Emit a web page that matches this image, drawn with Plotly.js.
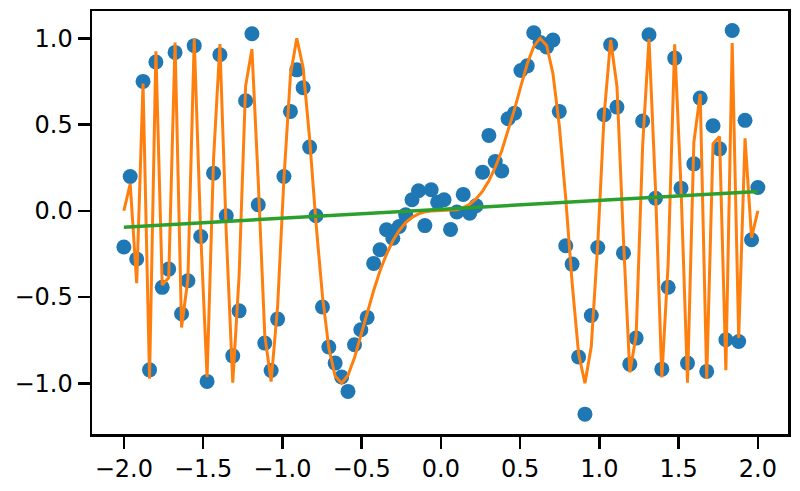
<!DOCTYPE html>
<html>
<head>
<meta charset="utf-8">
<script src="https://cdn.plot.ly/plotly-3.0.1.min.js"></script>
<style>html,body{margin:0;padding:0;background:#fff;}#chart{width:800px;height:491px;}</style>
</head>
<body>
<div id="chart"></div>
<script>
const xValues = [-2.000,-1.960,-1.919,-1.879,-1.838,-1.798,-1.758,-1.717,-1.677,-1.636,
  -1.596,-1.556,-1.515,-1.475,-1.434,-1.394,-1.354,-1.313,-1.273,-1.232,
  -1.192,-1.152,-1.111,-1.071,-1.030,-0.990,-0.949,-0.909,-0.869,-0.828,
  -0.788,-0.747,-0.707,-0.667,-0.626,-0.586,-0.545,-0.505,-0.465,-0.424,
  -0.384,-0.343,-0.303,-0.263,-0.222,-0.182,-0.141,-0.101,-0.061,-0.020,
  0.020,0.061,0.101,0.141,0.182,0.222,0.263,0.303,0.343,0.384,
  0.424,0.465,0.505,0.545,0.586,0.626,0.667,0.707,0.747,0.788,
  0.828,0.869,0.909,0.949,0.990,1.030,1.071,1.111,1.152,1.192,
  1.232,1.273,1.313,1.354,1.394,1.434,1.475,1.515,1.556,1.596,
  1.636,1.677,1.717,1.758,1.798,1.838,1.879,1.919,1.960,2.000];

const observedY = [-0.210,0.199,-0.280,0.750,-0.922,0.862,-0.444,-0.338,0.918,-0.597,
  -0.406,0.957,-0.149,-0.989,0.218,0.904,-0.029,-0.841,-0.580,0.638,
  1.026,0.035,-0.767,-0.926,-0.628,0.199,0.576,0.817,0.713,0.369,
  -0.029,-0.558,-0.790,-0.883,-0.964,-1.047,-0.777,-0.690,-0.618,-0.305,
  -0.226,-0.110,-0.159,-0.091,-0.023,0.064,0.116,-0.086,0.122,0.050,
  0.064,-0.108,-0.007,0.095,-0.014,0.029,0.224,0.437,0.286,0.231,
  0.533,0.566,0.813,0.840,1.032,0.976,0.950,0.990,0.576,-0.203,
  -0.309,-0.848,-1.179,-0.607,-0.213,0.557,0.962,0.601,-0.245,-0.889,
  -0.738,0.520,1.020,0.073,-0.918,-0.443,0.885,0.131,-0.883,0.272,
  0.653,-0.931,0.493,0.359,-0.748,1.045,-0.758,0.524,-0.168,0.135];

const curveY = [0.000,0.156,-0.420,0.737,-0.973,0.924,-0.430,-0.388,0.975,-0.677,
  -0.397,0.996,-0.136,-0.965,0.303,0.966,-0.127,-0.996,-0.378,0.723,
  0.937,0.168,-0.721,-0.990,-0.555,0.187,0.786,1.000,0.829,0.416,
  -0.069,-0.495,-0.796,-0.958,-1.000,-0.953,-0.852,-0.724,-0.589,-0.462,
  -0.348,-0.252,-0.174,-0.114,-0.069,-0.038,-0.018,-0.006,-0.001,0.000,
  0.000,0.001,0.006,0.018,0.038,0.069,0.114,0.174,0.252,0.348,
  0.462,0.589,0.724,0.852,0.953,1.000,0.958,0.796,0.495,0.069,
  -0.416,-0.829,-1.000,-0.786,-0.187,0.555,0.990,0.721,-0.168,-0.937,
  -0.723,0.378,0.996,0.127,-0.966,-0.303,0.965,0.136,-0.996,0.397,
  0.677,-0.975,0.388,0.430,-0.924,0.973,-0.737,0.420,-0.156,0.000];

const fitX = [-2.0, 2.0];
const fitY = [-0.095, 0.112];

const xTicks = [-2.0,-1.5,-1.0,-0.5,0.0,0.5,1.0,1.5,2.0];
const yTicks = [-1.0,-0.5,0.0,0.5,1.0];

const traces = [
  {x: xValues, y: observedY, type: 'scatter', mode: 'markers',
   marker: {color: '#1f77b4', size: 15, line: {width: 0}}, hoverinfo: 'skip'},
  {x: xValues, y: curveY, type: 'scatter', mode: 'lines',
   line: {color: '#ff7f0e', width: 3}, hoverinfo: 'skip'},
  {x: fitX, y: fitY, type: 'scatter', mode: 'lines',
   line: {color: '#2ca02c', width: 3.5}, hoverinfo: 'skip'}
];

const axisCommon = {
  showgrid: false, zeroline: false, showline: true, mirror: true,
  linecolor: '#000', linewidth: 2.5, ticks: 'outside', ticklen: 12,
  tickwidth: 2.5, tickcolor: '#000',
  tickfont: {family: 'DejaVu Sans', size: 24, color: '#000'}
};

const layout = {
  width: 800, height: 491,
  margin: {l: 92, r: 12, t: 11, b: 57, pad: 0},
  paper_bgcolor: '#fff', plot_bgcolor: '#fff',
  showlegend: false,
  xaxis: Object.assign({}, axisCommon, {range: [-2.201, 2.19],
    tickvals: xTicks, ticktext: xTicks.map(v => v.toFixed(1).replace('-', '\u2212'))}),
  yaxis: Object.assign({}, axisCommon, {range: [-1.294, 1.158],
    tickvals: yTicks, ticktext: yTicks.map(v => v.toFixed(1).replace('-', '\u2212'))})
};

Plotly.newPlot('chart', traces, layout, {staticPlot: true, displayModeBar: false});
</script>
</body>
</html>
